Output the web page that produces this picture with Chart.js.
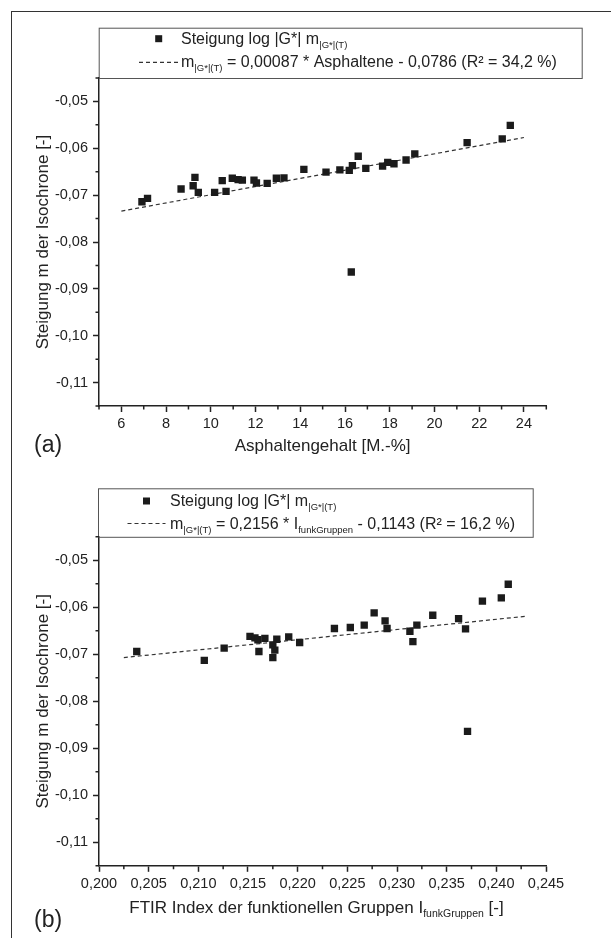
<!DOCTYPE html>
<html>
<head>
<meta charset="utf-8">
<script src="https://cdn.jsdelivr.net/npm/chart.js@4.4.1/dist/chart.umd.min.js"></script>
<style>
  html, body { margin: 0; padding: 0; background: #fff; }
  body { width: 611px; height: 938px; position: relative; overflow: hidden; font-family: 'Liberation Sans', Arial, sans-serif; }
  #frame { position: absolute; left: 11px; top: 11px; width: 700px; height: 1000px; border-top: 1px solid #333; border-left: 1px solid #333; }
  canvas { position: absolute; left: 0; }
  .tag { position: absolute; left: 34px; font-size: 23px; line-height: 23px; color: #222; }
</style>
</head>
<body>
<div id="frame"></div>
<canvas id="chartA" width="611" height="465" style="top:0"></canvas>
<canvas id="chartB" width="611" height="473" style="top:465px"></canvas>
<div class="tag" style="top:433px">(a)</div>
<div class="tag" style="top:908px">(b)</div>

<script>
// --- data ---
const asphaltene = [6.92, 7.17, 8.67, 9.21, 9.29, 9.44, 10.17, 10.51, 10.68, 10.96, 11.22,
  11.41, 11.93, 12.04, 12.52, 12.93, 13.27, 14.16, 15.15, 15.77, 16.19, 16.33, 16.59, 16.28,
  16.93, 17.68, 17.91, 18.19, 18.73, 19.12, 21.46, 23.03, 23.39];
const slopeA = [-0.0714, -0.0707, -0.0687, -0.0680, -0.0662, -0.0694, -0.0694, -0.0669, -0.0692,
  -0.0664, -0.0667, -0.0668, -0.0668, -0.0674, -0.0675, -0.0664, -0.0663, -0.0645, -0.0651,
  -0.0646, -0.0647, -0.0637, -0.0617, -0.0864, -0.0643, -0.0638, -0.0630, -0.0633, -0.0625,
  -0.0612, -0.0588, -0.0580, -0.0551];
const fitAX = [6, 24];
const fitAY = [-0.0734, -0.0577];

const ftirIndex = [0.2038, 0.2106, 0.2126, 0.2152, 0.2157, 0.2160, 0.2161, 0.2167, 0.2175,
  0.2177, 0.2175, 0.2179, 0.2191, 0.2202, 0.2237, 0.2253, 0.2267, 0.2277, 0.2288, 0.2290,
  0.2313, 0.2316, 0.2320, 0.2336, 0.2362, 0.2369, 0.2371, 0.2386, 0.2405, 0.2412];
const slopeB = [-0.0694, -0.0713, -0.0687, -0.0662, -0.0665, -0.0669, -0.0694, -0.0666, -0.0680,
  -0.0691, -0.0707, -0.0668, -0.0663, -0.0675, -0.0645, -0.0643, -0.0638, -0.0612, -0.0629,
  -0.0645, -0.0651, -0.0673, -0.0638, -0.0617, -0.0624, -0.0646, -0.0864, -0.0587, -0.0580,
  -0.0551];
const fitBX = [0.2025, 0.2430];
const fitBY = [-0.0707, -0.0619];

const yTicks = [-0.11, -0.10, -0.09, -0.08, -0.07, -0.06, -0.05];
const yMinor = [-0.115, -0.105, -0.095, -0.085, -0.075, -0.065, -0.055, -0.045];
const xTicksA = [6, 8, 10, 12, 14, 16, 18, 20, 22, 24];
const xMinorA = [5, 7, 9, 11, 13, 15, 17, 19, 21, 23, 25];
const xTicksB = [0.200, 0.205, 0.210, 0.215, 0.220, 0.225, 0.230, 0.235, 0.240, 0.245];
const xMinorB = [0.2025, 0.2075, 0.2125, 0.2175, 0.2225, 0.2275, 0.2325, 0.2375, 0.2425];

const FONT = "'Liberation Sans', Arial, sans-serif";
const INK = '#222';
const sub = '|G*|(T)';

// rich text: [text, isSub]
function drawRich(ctx, x, y, segs, size, subSize, dry) {
  for (const [txt, isSub] of segs) {
    ctx.font = (isSub ? subSize : size) + 'px ' + FONT;
    if (!dry) ctx.fillText(txt, x, isSub ? y + 4 : y);
    x += ctx.measureText(txt).width;
  }
  return x;
}

const richLegend = {
  id: 'richLegend',
  afterDraw(chart, args, o) {
    const { ctx, chartArea: ca } = chart;
    const pts = chart.data.datasets[0];
    const fit = chart.data.datasets[1];
    ctx.save();
    ctx.strokeStyle = '#555';
    ctx.lineWidth = 1;
    ctx.strokeRect(o.box[0] + 0.5, o.box[1] + 0.5, o.box[2] - o.box[0], ca.top - o.box[1]);
    ctx.fillStyle = pts.backgroundColor;
    ctx.fillRect(o.marker[0] - 3.5, o.marker[1] - 3.5, 7, 7);
    ctx.strokeStyle = fit.borderColor;
    ctx.lineWidth = fit.borderWidth;
    ctx.setLineDash(fit.borderDash);
    ctx.beginPath();
    ctx.moveTo(o.dash[0], o.dash[2]);
    ctx.lineTo(o.dash[1], o.dash[2]);
    ctx.stroke();
    ctx.setLineDash([]);
    ctx.fillStyle = INK;
    ctx.textBaseline = 'alphabetic';
    drawRich(ctx, o.textX, o.base[0], o.lines[0], 16, 9.5);
    drawRich(ctx, o.textX, o.base[1], o.lines[1], 16, 9.5);
    ctx.restore();
  }
};

const minorTicks = {
  id: 'minorTicks',
  afterDraw(chart, args, o) {
    const { ctx, chartArea: ca, scales } = chart;
    ctx.save();
    ctx.strokeStyle = INK;
    ctx.lineWidth = 1.5;
    ctx.beginPath();
    for (const v of o.x) {
      const p = scales.x.getPixelForValue(v);
      ctx.moveTo(p, ca.bottom); ctx.lineTo(p, ca.bottom + 3.5);
    }
    for (const v of o.y) {
      const p = scales.y.getPixelForValue(v);
      ctx.moveTo(ca.left, p); ctx.lineTo(ca.left - 3.5, p);
    }
    ctx.stroke();
    ctx.restore();
  }
};

// axis title with subscript (chart b)
const richXTitle = {
  id: 'richXTitle',
  afterDraw(chart, args, o) {
    if (!o.segs) return;
    const { ctx, chartArea: ca } = chart;
    ctx.save();
    ctx.fillStyle = INK;
    ctx.textBaseline = 'alphabetic';
    const w = drawRich(ctx, 0, 0, o.segs, 17, 10.5, true);
    drawRich(ctx, (ca.left + ca.right) / 2 - w / 2 - 6, ca.bottom + o.offset, o.segs, 17, 10.5);
    ctx.restore();
  }
};

function comma(v, d) { return v.toFixed(d).replace('.', ','); }

function makeChart(id, xs, ys, fx, fy, cfg) {
  return new Chart(document.getElementById(id), {
    type: 'scatter',
    data: {
      datasets: [
        {
          data: xs.map((x, i) => ({ x, y: ys[i] })),
          pointStyle: 'rect',
          pointRadius: 5.2,
          backgroundColor: '#1b1b1b',
          borderWidth: 0
        },
        {
          data: fx.map((x, i) => ({ x, y: fy[i] })),
          showLine: true,
          borderColor: '#333',
          borderWidth: 1.2,
          borderDash: [4, 3],
          pointRadius: 0
        }
      ]
    },
    options: {
      responsive: false,
      animation: false,
      events: [],
      layout: { padding: { left: 0, right: cfg.padRight, top: cfg.padTop, bottom: 0 } },
      plugins: {
        legend: { display: false },
        tooltip: { enabled: false },
        richLegend: cfg.legend,
        minorTicks: { x: cfg.xMinor, y: yMinor },
        richXTitle: cfg.xRich || {}
      },
      scales: {
        x: {
          type: 'linear',
          min: cfg.xMin,
          max: cfg.xMax,
          afterBuildTicks: s => { s.ticks = cfg.xTicks.map(value => ({ value })); },
          afterFit: s => { s.height = cfg.xHeight; },
          ticks: {
            color: INK,
            padding: 3,
            maxRotation: 0,
            font: { family: FONT, size: 14.5 },
            callback: v => cfg.xFmt(v)
          },
          grid: { drawOnChartArea: false, tickLength: 6, tickWidth: 1.5, tickColor: INK },
          border: { color: INK, width: 1.5 },
          title: cfg.xTitle
        },
        y: {
          min: -0.115,
          max: -0.045,
          afterBuildTicks: s => { s.ticks = yTicks.map(value => ({ value })); },
          afterFit: s => { s.width = 99; },
          ticks: {
            color: INK,
            padding: 5,
            font: { family: FONT, size: 14.5 },
            callback: v => comma(v, 2)
          },
          grid: { drawOnChartArea: false, tickLength: 6, tickWidth: 1.5, tickColor: INK },
          border: { color: INK, width: 1.5 },
          title: {
            display: true,
            text: 'Steigung m der Isochrone [-]',
            color: INK,
            font: { family: FONT, size: 17 },
            padding: { top: 33, bottom: 0 }
          }
        }
      }
    },
    plugins: [richLegend, minorTicks, richXTitle]
  });
}

makeChart('chartA', asphaltene, slopeA, fitAX, fitAY, {
  padTop: 78, padRight: 64.7, xHeight: 59,
  xMin: 5, xMax: 25, xTicks: xTicksA, xMinor: xMinorA,
  xFmt: v => String(v),
  xTitle: {
    display: true, text: 'Asphaltengehalt [M.-%]', color: INK,
    font: { family: FONT, size: 17 }, padding: { top: 0, bottom: 8 }
  },
  legend: {
    box: [98.7, 27.7, 581.7], marker: [158.7, 38.7], dash: [139, 178, 62.3],
    textX: 181, base: [43.5, 67],
    lines: [
      [['Steigung log |G*| m', false], [sub, true]],
      [['m', false], [sub, true], [' = 0,00087 * Asphaltene - 0,0786 (R\u00b2 = 34,2 %)', false]]
    ]
  }
});

makeChart('chartB', ftirIndex, slopeB, fitBX, fitBY, {
  padTop: 71.8, padRight: 65, xHeight: 72.2,
  xMin: 0.200, xMax: 0.245, xTicks: xTicksB, xMinor: xMinorB,
  xFmt: v => comma(v, 3),
  xTitle: { display: false },
  xRich: {
    offset: 47,
    segs: [['FTIR Index der funktionellen Gruppen I', false], ['funkGruppen', true], [' [-]', false]]
  },
  legend: {
    box: [98, 23.3, 532.7], marker: [146.5, 36], dash: [127.5, 165.5, 58.5],
    textX: 170, base: [40.5, 64],
    lines: [
      [['Steigung log |G*| m', false], [sub, true]],
      [['m', false], [sub, true], [' = 0,2156 * I', false], ['funkGruppen', true],
       [' - 0,1143 (R\u00b2 = 16,2 %)', false]]
    ]
  }
});
</script>
</body>
</html>
